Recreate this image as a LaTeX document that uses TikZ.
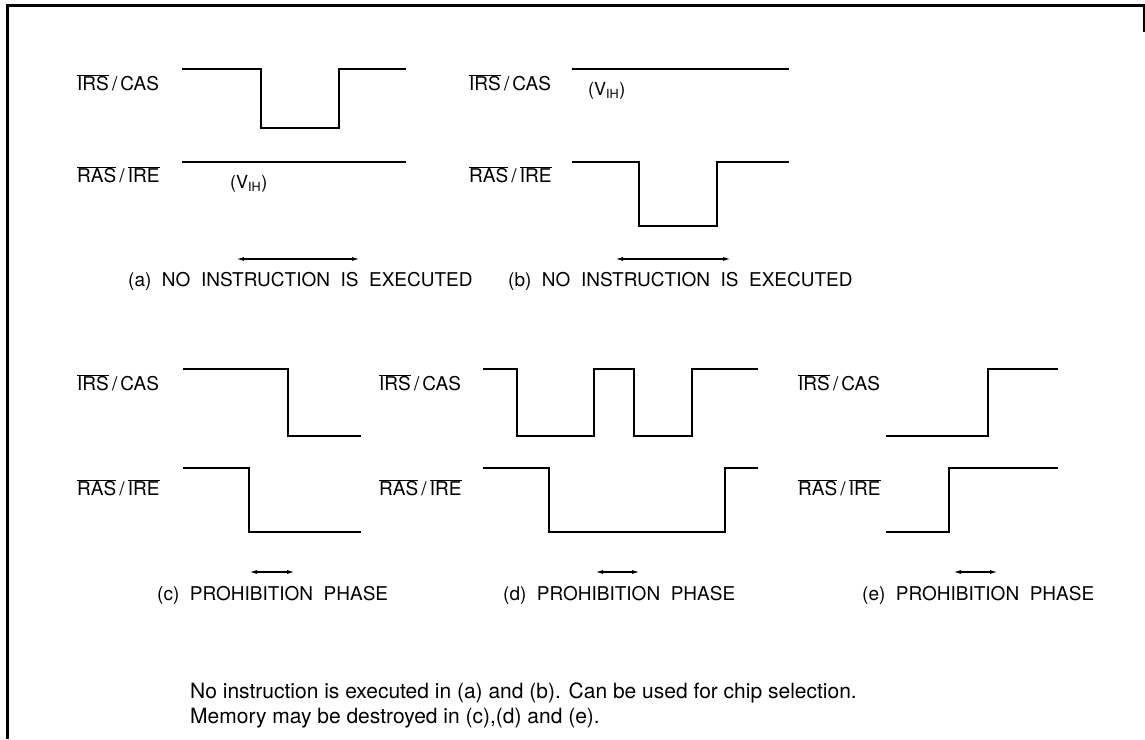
\documentclass[tikz,border=0pt]{standalone}
\usepackage{fontspec}
\setmainfont{TeX Gyre Heros}
\usetikzlibrary{arrows.meta}

\newcommand{\ovl}[1]{$\overline{\hbox{#1}}$}

\begin{document}
\begin{tikzpicture}[x=1pt,y=-1pt,
  wave/.style={line width=2.8pt},
  span/.style={{Latex[length=8pt,width=4pt]}-{Latex[length=8pt,width=4pt]}, line width=1.4pt},
  sig/.style={anchor=west, inner sep=0pt, font=\fontsize{19}{22}\selectfont},
  title/.style={anchor=west, inner sep=0pt, font=\fontsize{19}{22}\selectfont, text depth=0pt},
  note/.style={anchor=west, inner sep=0pt, font=\fontsize{21}{24}\selectfont, text depth=0pt},
  vih/.style={anchor=west, inner sep=0pt, font=\fontsize{18}{20}\selectfont}]
\useasboundingbox (0,0) rectangle (1145,739);
 \draw[line width=3pt] (7,739) -- (7,5) -- (1144,5) -- (1144,32);

 % signal names
 \foreach \n/\x/\y in {a/77/83, b/469/83, c/77/383, d/379/383, e/798/383}
   \node[sig] (cas \n) at (\x,\y) {\ovl{IRS}\,/\,CAS};
 \foreach \n/\x/\y in {a/77/175, b/469/175, c/77/488, d/379/488, e/798/488}
   \node[sig] (ras \n) at (\x,\y) {\ovl{RAS}\,/\,\ovl{IRE}};

 % (a) and (b)
 \draw[wave] (182,69) -| (261,128) -| (339,69) -- (406,69);
 \draw[wave] (182,162) -- (406,162);
 \node[vih] (vih a) at (230,184) {(V\textsubscript{IH})};
 \draw[wave] (572,69) -- (789,69);
 \node[vih] (vih b) at (588,91) {(V\textsubscript{IH})};
 \draw[wave] (572,162) -| (639,226) -| (717,162) -- (789,162);

 % (c), (d) and (e)
 \draw[wave] (183,369) -| (288,436) -- (361,436);
 \draw[wave] (183,468) -| (249,532) -- (361,532);
 \draw[wave] (483,369) -| (517,436) -| (594,369) -| (634,436) -| (692,369) -- (758,369);
 \draw[wave] (483,468) -| (549,532) -| (725,468) -- (758,468);
 \draw[wave] (886,436) -| (988,369) -- (1058,369);
 \draw[wave] (886,532) -| (949,468) -- (1058,468);

 \foreach \l/\r/\y in {236/360/259, 615/731/259, 249/295/572, 595/640/572, 953/998/572}
   \draw[span] (\l,\y) -- (\r,\y);

 \node[title] (title a) at (128,279) {(a)\ \ NO\ \ INSTRUCTION\ \ IS\ \ EXECUTED};
 \node[title] (title b) at (508,279) {(b)\ \ NO\ \ INSTRUCTION\ \ IS\ \ EXECUTED};
 \foreach \n/\x in {c/157, d/503, e/862}
   \node[title] (title \n) at (\x,593) {(\n)\ \ PROHIBITION\ \ PHASE};

 \node[note] (note 1) at (190,691) {No instruction is executed in (a) and (b). Can be used for chip selection.};
 \node[note] (note 2) at (190,716) {Memory may be destroyed in (c),(d) and (e).};
\end{tikzpicture}
\end{document}
